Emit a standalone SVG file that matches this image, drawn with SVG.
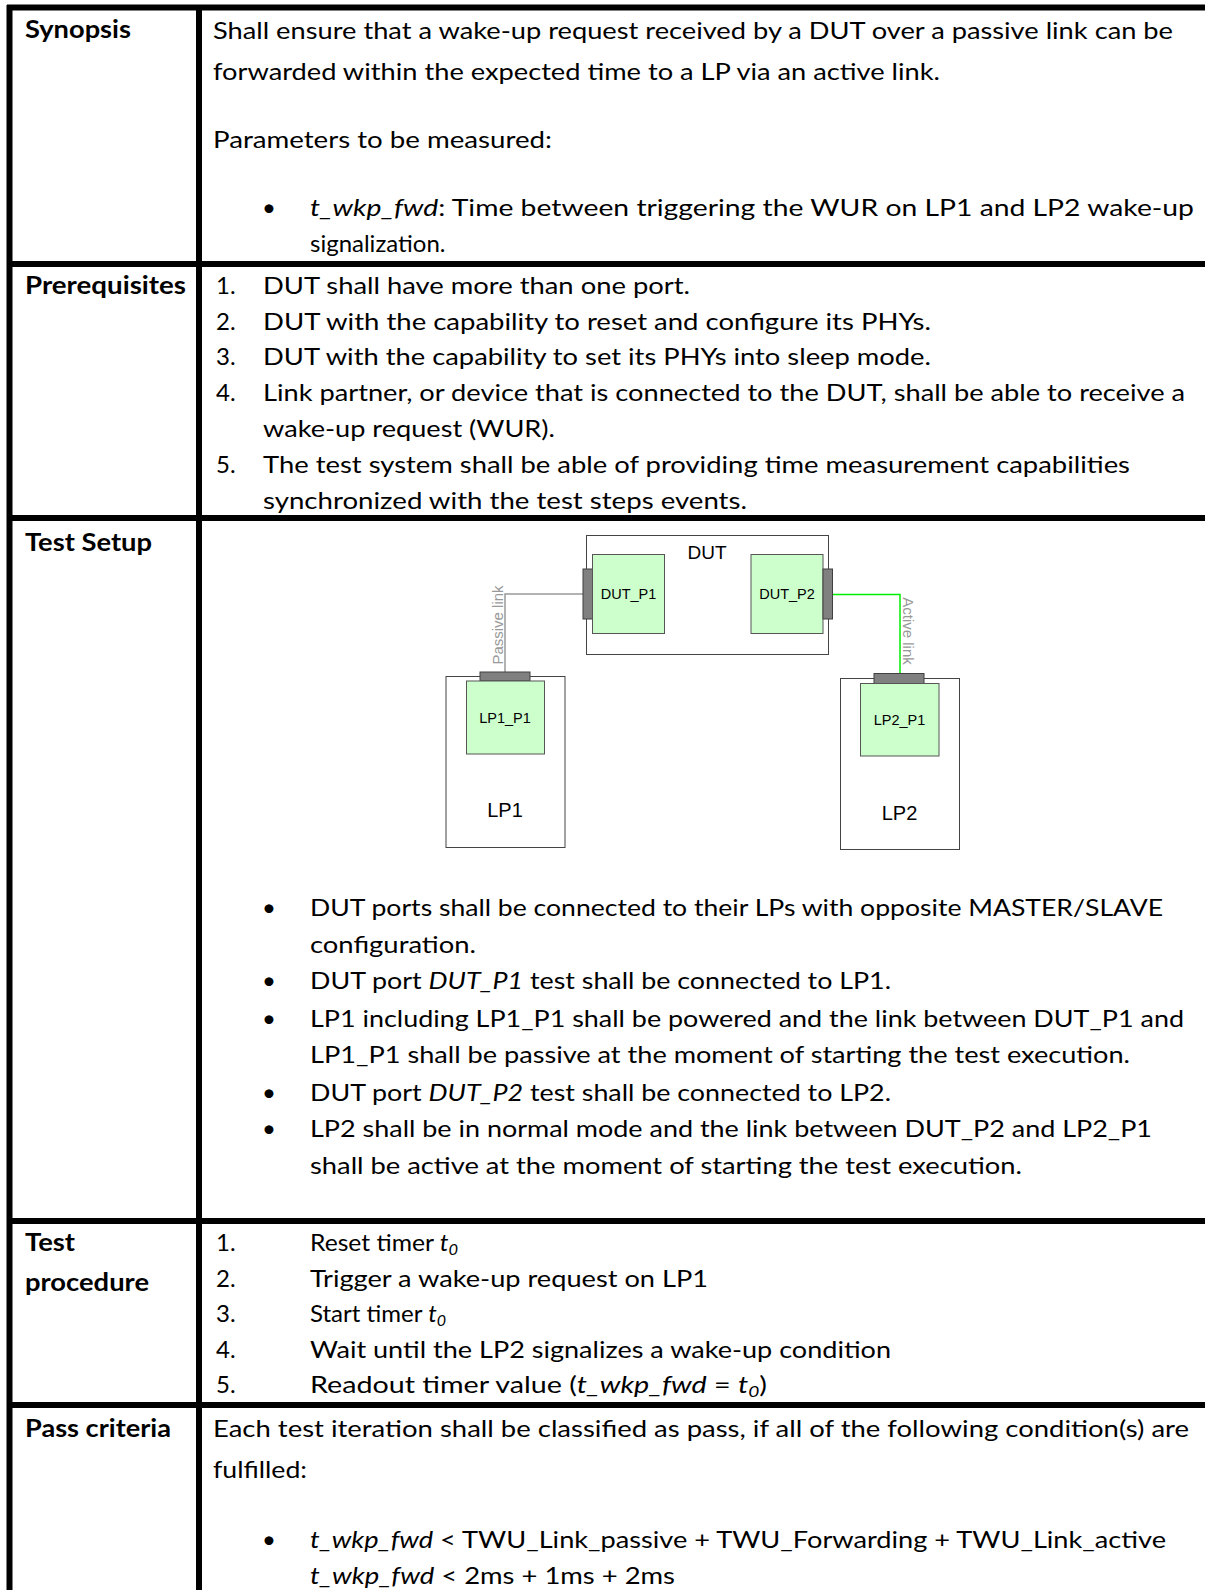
<svg xmlns="http://www.w3.org/2000/svg" width="1205" height="1590" viewBox="0 0 1205 1590">
<style>
.t{font-family:Lato,"Open Sans",sans-serif;font-size:24px;fill:#000}
.b{font-weight:bold}
.i{font-style:italic}
.d{font-family:"Liberation Sans",Arial,sans-serif;fill:#000}
.box{fill:#fff;stroke:#444;stroke-width:1}
.port{fill:#ccffcc;stroke:#555;stroke-width:1}
.con{fill:#808080;stroke:#404040;stroke-width:1}
.grid{stroke:#000;stroke-width:6;fill:none}
</style>
<rect width="1205" height="1590" fill="#fff"/>
<g id="table">
<line class="grid" x1="9.5" y1="5" x2="9.5" y2="1590"/>
<line class="grid" x1="199" y1="5" x2="199" y2="1590"/>
<line class="grid" x1="7" y1="7.5" x2="1205" y2="7.5"/>
<line class="grid" x1="7" y1="264" x2="1205" y2="264"/>
<line class="grid" x1="7" y1="518" x2="1205" y2="518"/>
<line class="grid" x1="7" y1="1221" x2="1205" y2="1221"/>
<line class="grid" x1="7" y1="1405" x2="1205" y2="1405"/>
</g>
<g id="labels" class="t b">
<text x="25" y="38" textLength="106" lengthAdjust="spacingAndGlyphs">Synopsis</text>
<text x="25" y="294" textLength="161" lengthAdjust="spacingAndGlyphs">Prerequisites</text>
<text x="25" y="551" textLength="127" lengthAdjust="spacingAndGlyphs">Test Setup</text>
<text x="25" y="1251" textLength="50" lengthAdjust="spacingAndGlyphs">Test</text>
<text x="25" y="1291" textLength="124" lengthAdjust="spacingAndGlyphs">procedure</text>
<text x="25" y="1437" textLength="146" lengthAdjust="spacingAndGlyphs">Pass criteria</text>
</g>
<g id="synopsis" class="t">
<text x="213" y="38.5" textLength="960" lengthAdjust="spacingAndGlyphs">Shall ensure that a wake-up request received by a DUT over a passive link can be</text>
<text x="213" y="79.5" textLength="727" lengthAdjust="spacingAndGlyphs">forwarded within the expected time to a LP via an active link.</text>
<text x="213" y="148" textLength="339" lengthAdjust="spacingAndGlyphs">Parameters to be measured:</text>
<text x="269" y="216" text-anchor="middle">•</text>
<text x="310" y="216" textLength="884" lengthAdjust="spacingAndGlyphs"><tspan class="i">t_wkp_fwd</tspan>: Time between triggering the WUR on LP1 and LP2 wake-up</text>
<text x="310" y="252">signalization.</text>
</g>
<g id="prerequisites" class="t">
<text x="216" y="294">1.</text>
<text x="263" y="294" textLength="427" lengthAdjust="spacingAndGlyphs">DUT shall have more than one port.</text>
<text x="216" y="329.5">2.</text>
<text x="263" y="329.5" textLength="668" lengthAdjust="spacingAndGlyphs">DUT with the capability to reset and configure its PHYs.</text>
<text x="216" y="365">3.</text>
<text x="263" y="365" textLength="668" lengthAdjust="spacingAndGlyphs">DUT with the capability to set its PHYs into sleep mode.</text>
<text x="216" y="401">4.</text>
<text x="263" y="401" textLength="922" lengthAdjust="spacingAndGlyphs">Link partner, or device that is connected to the DUT, shall be able to receive a</text>
<text x="263" y="437" textLength="292" lengthAdjust="spacingAndGlyphs">wake-up request (WUR).</text>
<text x="216" y="473">5.</text>
<text x="263" y="473" textLength="867" lengthAdjust="spacingAndGlyphs">The test system shall be able of providing time measurement capabilities</text>
<text x="263" y="509" textLength="484" lengthAdjust="spacingAndGlyphs">synchronized with the test steps events.</text>
</g>
<g id="connectors" fill="none">
<polyline points="583,594 505,594 505,672" stroke="#999" stroke-width="1.5"/>
<polyline points="833,594.5 900,594.5 900,673" stroke="#00ee00" stroke-width="1.5"/>
<text class="d" transform="translate(503,625) rotate(-90)" text-anchor="middle" font-size="15" style="fill:#999">Passive link</text>
<text class="d" transform="translate(903,631) rotate(90)" text-anchor="middle" font-size="15" style="fill:#999">Active link</text>
</g>
<g id="DUT">
<rect class="box" x="586.5" y="535.5" width="242" height="119"/>
<text class="d" x="707" y="558.5" text-anchor="middle" font-size="19">DUT</text>
</g>
<g id="DUT_P1">
<rect class="con" x="583" y="569" width="9.5" height="50"/>
<rect class="port" x="592.5" y="554.5" width="72" height="79"/>
<text class="d" x="628.5" y="598.5" text-anchor="middle" font-size="14.5">DUT_P1</text>
</g>
<g id="DUT_P2">
<rect class="port" x="751" y="554.5" width="72" height="79"/>
<rect class="con" x="823" y="569" width="9.5" height="50"/>
<text class="d" x="787" y="598.5" text-anchor="middle" font-size="14.5">DUT_P2</text>
</g>
<g id="LP1">
<rect class="box" x="446" y="676.5" width="119" height="171"/>
<text class="d" x="505" y="816.5" text-anchor="middle" font-size="20">LP1</text>
</g>
<g id="LP1_P1">
<rect class="con" x="480" y="672" width="50" height="9"/>
<rect class="port" x="466.5" y="681" width="78" height="73"/>
<text class="d" x="505" y="722.5" text-anchor="middle" font-size="14.5">LP1_P1</text>
</g>
<g id="LP2">
<rect class="box" x="840.5" y="678.5" width="119" height="171"/>
<text class="d" x="899.5" y="819.5" text-anchor="middle" font-size="20">LP2</text>
</g>
<g id="LP2_P1">
<rect class="con" x="874" y="673.5" width="50" height="10"/>
<rect class="port" x="860.5" y="683.5" width="78.5" height="72.5"/>
<text class="d" x="899.5" y="725" text-anchor="middle" font-size="14.5">LP2_P1</text>
</g>
<g id="setup" class="t">
<text x="269" y="916" text-anchor="middle">•</text>
<text x="310" y="916" textLength="853" lengthAdjust="spacingAndGlyphs">DUT ports shall be connected to their LPs with opposite MASTER/SLAVE</text>
<text x="310" y="952.5" textLength="166" lengthAdjust="spacingAndGlyphs">configuration.</text>
<text x="269" y="989" text-anchor="middle">•</text>
<text x="310" y="989" textLength="581" lengthAdjust="spacingAndGlyphs">DUT port <tspan class="i">DUT_P1</tspan> test shall be connected to LP1.</text>
<text x="269" y="1026.5" text-anchor="middle">•</text>
<text x="310" y="1026.5" textLength="874" lengthAdjust="spacingAndGlyphs">LP1 including LP1_P1 shall be powered and the link between DUT_P1 and</text>
<text x="310" y="1063" textLength="820" lengthAdjust="spacingAndGlyphs">LP1_P1 shall be passive at the moment of starting the test execution.</text>
<text x="269" y="1100.5" text-anchor="middle">•</text>
<text x="310" y="1100.5" textLength="581" lengthAdjust="spacingAndGlyphs">DUT port <tspan class="i">DUT_P2</tspan> test shall be connected to LP2.</text>
<text x="269" y="1137" text-anchor="middle">•</text>
<text x="310" y="1137" textLength="842" lengthAdjust="spacingAndGlyphs">LP2 shall be in normal mode and the link between DUT_P2 and LP2_P1</text>
<text x="310" y="1173.5" textLength="712" lengthAdjust="spacingAndGlyphs">shall be active at the moment of starting the test execution.</text>
</g>
<g id="procedure" class="t">
<text x="216" y="1251">1.</text>
<text x="310" y="1251" textLength="148" lengthAdjust="spacingAndGlyphs">Reset timer <tspan class="i">t</tspan><tspan class="i" font-size="16" dy="4">0</tspan></text>
<text x="216" y="1286.5">2.</text>
<text x="310" y="1286.5" textLength="398" lengthAdjust="spacingAndGlyphs">Trigger a wake-up request on LP1</text>
<text x="216" y="1322">3.</text>
<text x="310" y="1322" textLength="136" lengthAdjust="spacingAndGlyphs">Start timer <tspan class="i">t</tspan><tspan class="i" font-size="16" dy="4">0</tspan></text>
<text x="216" y="1357.5">4.</text>
<text x="310" y="1357.5" textLength="581" lengthAdjust="spacingAndGlyphs">Wait until the LP2 signalizes a wake-up condition</text>
<text x="216" y="1393">5.</text>
<text x="310" y="1393" textLength="457" lengthAdjust="spacingAndGlyphs">Readout timer value (<tspan class="i">t_wkp_fwd</tspan> = <tspan class="i">t</tspan><tspan class="i" font-size="16" dy="4">0</tspan><tspan dy="-4">)</tspan></text>
</g>
<g id="pass" class="t">
<text x="213" y="1437" textLength="976" lengthAdjust="spacingAndGlyphs">Each test iteration shall be classified as pass, if all of the following condition(s) are</text>
<text x="213" y="1477.5" textLength="94" lengthAdjust="spacingAndGlyphs">fulfilled:</text>
<text x="269" y="1547.5" text-anchor="middle">•</text>
<text x="310" y="1547.5" textLength="856" lengthAdjust="spacingAndGlyphs"><tspan class="i">t_wkp_fwd</tspan> &lt; TWU_Link_passive + TWU_Forwarding + TWU_Link_active</text>
<text x="310" y="1583.5" textLength="365" lengthAdjust="spacingAndGlyphs"><tspan class="i">t_wkp_fwd</tspan> &lt; 2ms + 1ms + 2ms</text>
</g>
</svg>
